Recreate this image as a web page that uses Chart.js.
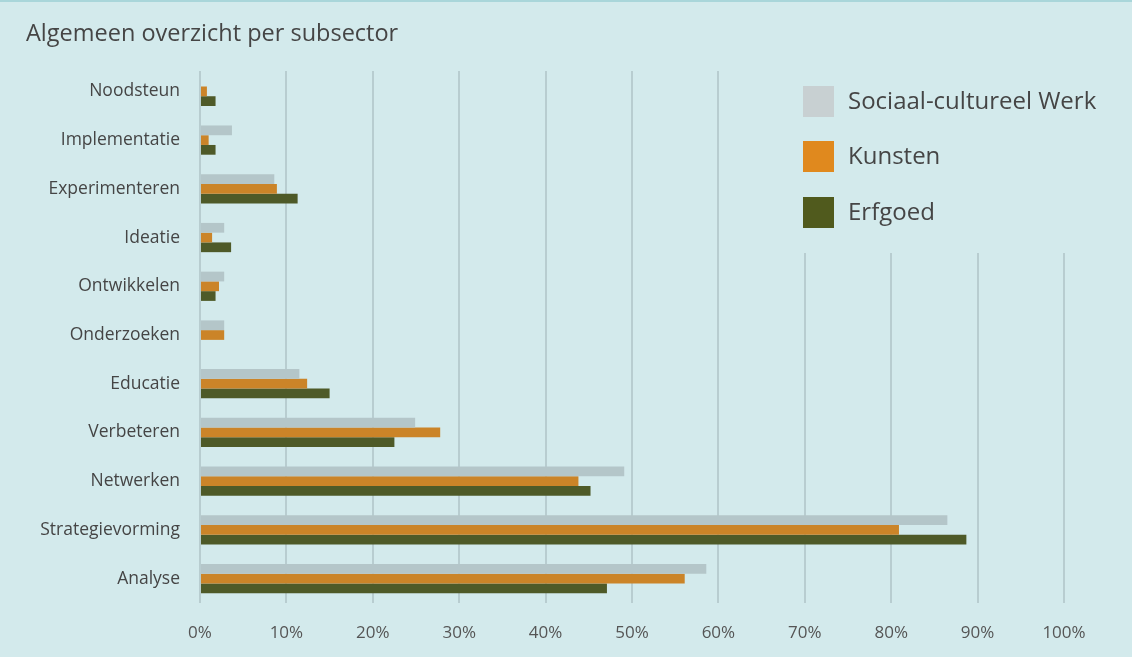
<!DOCTYPE html>
<html>
<head>
<meta charset="utf-8">
<script src="https://cdn.jsdelivr.net/npm/chart.js@4/dist/chart.umd.min.js"></script>
<style>
  html, body { margin: 0; padding: 0; background: #d3eaec; }
  #wrap { width: 1132px; height: 657px; position: relative; border-top: 2px solid #a9d6da; box-sizing: border-box; }
</style>
</head>
<body>
<div id="wrap"><canvas id="chart" width="1132" height="655"></canvas></div>
<script>
// Data (percentages)
const categories = ['Noodsteun', 'Implementatie', 'Experimenteren', 'Ideatie', 'Ontwikkelen',
  'Onderzoeken', 'Educatie', 'Verbeteren', 'Netwerken', 'Strategievorming', 'Analyse'];
const sociaalCultureel = [0, 3.7, 8.6, 2.8, 2.8, 2.8, 11.5, 24.9, 49.1, 86.5, 58.6];
const kunsten = [0.8, 1.0, 8.9, 1.4, 2.2, 2.8, 12.4, 27.8, 43.8, 80.9, 56.1];
const erfgoed = [1.8, 1.8, 11.3, 3.6, 1.8, 0, 15.0, 22.5, 45.2, 88.7, 47.1];
const xTicks = [0, 10, 20, 30, 40, 50, 60, 70, 80, 90, 100];

const bg = '#d3eaec';
const textColor = '#454545';
const fontFamily = '"Open Sans", "Noto Sans", sans-serif';

// Legend + title drawn by hand so the legend can sit on a background patch over the grid
const overlayPlugin = {
  id: 'overlay',
  beforeDatasetsDraw(chart) {
    const ctx = chart.ctx;
    const area = chart.chartArea;
    ctx.save();
    ctx.fillStyle = bg;
    ctx.fillRect(785, area.top - 2, chart.width - 785, 253 - area.top);
    ctx.fillRect(area.left - 2, area.top - 2, area.right - area.left + 4, 6);
    ctx.restore();
  },
  afterDraw(chart) {
    const ctx = chart.ctx;
    ctx.save();
    ctx.fillStyle = textColor;
    ctx.font = '23.5px ' + fontFamily;
    ctx.textBaseline = 'middle';
    ctx.textAlign = 'left';
    ctx.fillText('Algemeen overzicht per subsector', 26, 32);

    const swatches = ['#c8d0d2', '#e0891e', '#505a1d'];
    const rows = [101, 156, 212];
    ctx.font = '24px ' + fontFamily;
    chart.data.datasets.forEach((ds, i) => {
      ctx.fillStyle = swatches[i];
      ctx.fillRect(803, rows[i] - 17, 31, 31);
      ctx.fillStyle = textColor;
      ctx.fillText(ds.label, 848, rows[i] - 1);
    });
    ctx.restore();
  }
};

new Chart(document.getElementById('chart'), {
  type: 'bar',
  data: {
    labels: categories,
    datasets: [
      { label: 'Sociaal-cultureel Werk', data: sociaalCultureel, backgroundColor: '#b4c6c9' },
      { label: 'Kunsten', data: kunsten, backgroundColor: '#cb8428' },
      { label: 'Erfgoed', data: erfgoed, backgroundColor: '#4e5a28' }
    ]
  },
  options: {
    indexAxis: 'y',
    responsive: false,
    animation: false,
    layout: { padding: { top: 65, right: 68, bottom: 0, left: 0 } },
    datasets: { bar: { categoryPercentage: 0.6, barPercentage: 1.0 } },
    plugins: { legend: { display: false }, tooltip: { enabled: false } },
    scales: {
      x: {
        min: 0,
        max: 100,
        afterBuildTicks(scale) { scale.ticks = xTicks.map(v => ({ value: v })); },
        afterFit(scale) { scale.height = 54; },
        grid: { color: '#b8cdd0', lineWidth: 2, drawTicks: false },
        border: { display: false },
        ticks: {
          padding: 20,
          color: '#555',
          font: { size: 17, family: fontFamily },
          callback: v => v + '%'
        }
      },
      y: {
        afterFit(scale) { scale.width = 200; },
        grid: { display: false },
        border: { display: false },
        ticks: {
          padding: 12,
          color: textColor,
          font: { size: 17.5, family: fontFamily }
        }
      }
    }
  },
  plugins: [overlayPlugin]
});
</script>
</body>
</html>
